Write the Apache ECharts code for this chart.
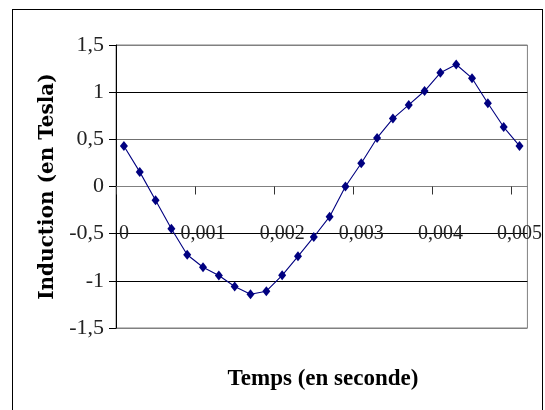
<!DOCTYPE html>
<html>
<head>
<meta charset="utf-8">
<script src="https://cdn.jsdelivr.net/npm/echarts@6/dist/echarts.min.js"></script>
<style>
  html, body { margin: 0; padding: 0; background: #fff; overflow: hidden; }
  #wrap { position: relative; width: 545px; height: 410px; }
  #chart { position: absolute; left: 0; top: 0; width: 545px; height: 410px; }
  #frame { position: absolute; left: 12px; top: 9px; width: 529px; height: 420px; border: 1px solid #000; pointer-events: none; }
</style>
</head>
<body>
<div id="wrap">
  <div id="chart"></div>
  <div id="frame"></div>
</div>
<script>
// Time (s)
const times = [0, 0.0002, 0.0004, 0.0006, 0.0008, 0.001, 0.0012, 0.0014, 0.0016, 0.0018,
               0.002, 0.0022, 0.0024, 0.0026, 0.0028, 0.003, 0.0032, 0.0034, 0.0036, 0.0038,
               0.004, 0.0042, 0.0044, 0.0046, 0.0048, 0.005];
// Induction (T)
const induction = [0.43, 0.155, -0.145, -0.448, -0.723, -0.856, -0.943, -1.06, -1.143, -1.11,
                   -0.942, -0.74, -0.535, -0.32, 0.0, 0.246, 0.515, 0.72, 0.865, 1.012,
                   1.205, 1.293, 1.148, 0.883, 0.63, 0.43];
// Axis tick labels
const xTickLabels = [0, 0.001, 0.002, 0.003, 0.004, 0.005];
const yTickLabels = [-1.5, -1, -0.5, 0, 0.5, 1, 1.5];

const xTitle = 'Temps (en seconde)';
const yTitle = 'Induction (en Tesla)';

const fmt = v => String(v).replace('.', ',');
const tickShift = 0.0001;
const xMin = -0.0001, xMax = 0.0051;

const chart = echarts.init(document.getElementById('chart'), null, { renderer: 'canvas' });
chart.setOption({
  animation: false,
  backgroundColor: '#fff',
  grid: {
    left: 116, top: 45, right: 14, bottom: 82,
    show: true, borderColor: '#808080', borderWidth: 1, backgroundColor: 'transparent'
  },
  xAxis: [{
    type: 'value',
    min: xMin, max: xMax,
    axisLine: { onZero: true, lineStyle: { color: '#808080', width: 1 } },
    axisTick: {
      show: true, inside: false, length: 8,
      customValues: xTickLabels.map(v => v - tickShift),
      lineStyle: { color: '#333', width: 1 }
    },
    axisLabel: { show: false },
    splitLine: { show: false }
  }, {
    type: 'value',
    position: 'bottom',
    min: xMin, max: xMax,
    offset: -112,
    axisLine: { show: false, onZero: false },
    axisTick: { show: false },
    axisLabel: {
      customValues: xTickLabels,
      formatter: fmt,
      margin: 8,
      fontFamily: 'Liberation Serif', fontSize: 20, color: '#222'
    },
    splitLine: { show: false }
  }],
  yAxis: {
    type: 'value',
    min: -1.5, max: 1.5, interval: 0.5,
    axisLine: { show: true, onZero: false, lineStyle: { color: '#000', width: 1 } },
    axisTick: { show: true, length: 7, lineStyle: { color: '#000', width: 1 } },
    axisLabel: {
      formatter: fmt, margin: 12,
      fontFamily: 'Liberation Serif', fontSize: 22, color: '#222'
    },
    splitLine: {
      show: true,
      lineStyle: { color: ['#808080', '#000', '#000', '#707070', '#707070', '#000', '#808080'], width: 1 }
    },
    name: yTitle,
    nameLocation: 'middle',
    nameRotate: 90,
    nameGap: 57,
    nameTextStyle: { fontFamily: 'DejaVu Serif', fontWeight: 'bold', fontSize: 20, color: '#000' }
  },
  graphic: [{
    type: 'text',
    x: 323, y: 379,
    style: {
      text: xTitle, align: 'center', verticalAlign: 'middle',
      font: 'bold 23px "Liberation Serif"', fill: '#000'
    }
  }],
  series: [{
    type: 'line',
    xAxisIndex: 0,
    data: times.map((t, i) => [t, induction[i]]),
    symbol: 'diamond',
    symbolSize: [8, 10],
    showAllSymbol: true,
    lineStyle: { color: '#000080', width: 1.1 },
    itemStyle: { color: '#000080' },
    z: 5
  }]
});
</script>
</body>
</html>
